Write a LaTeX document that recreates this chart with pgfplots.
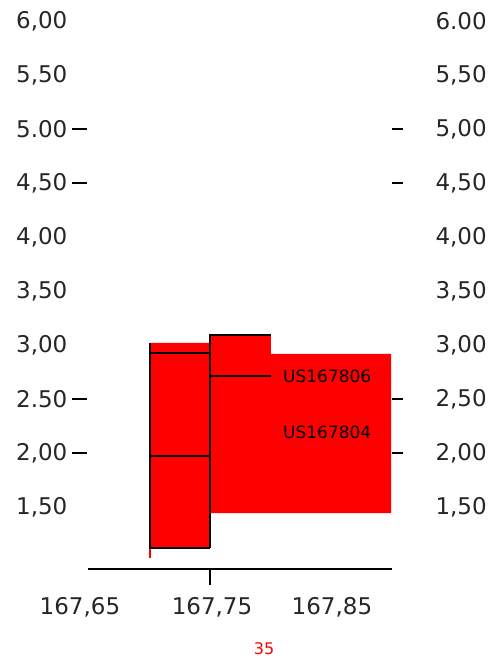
\documentclass[border=0pt]{standalone}
\usepackage{pgfplots}
\pgfplotsset{compat=1.18}
\usepackage{fontspec}
\setmainfont{DejaVu Sans}
\begin{document}
\begin{tikzpicture}
\begin{axis}[
  scale only axis, width=494bp, height=659bp,
  xmin=167.58333, xmax=167.97540,
  ymin=0.09259, ymax=6.19444,
  hide axis, clip=false,
]
% red areas
\addplot[fill=red, draw=none, forget plot] coordinates {
  (167.7024,3.0185) (167.75,3.0185) (167.75,1.1204) (167.7024,1.1204) (167.7024,3.0185)};
\addplot[fill=red, draw=none, forget plot] coordinates {
  (167.75,3.0926) (167.7984,3.0926) (167.7984,2.9167) (167.8937,2.9167)
  (167.8937,1.4444) (167.75,1.4444) (167.75,3.0926)};
% red small line below first box
\addplot[red, line width=1.2bp, forget plot] coordinates {(167.7024,1.1204) (167.7024,1.0278)};
% black outlines
\addplot[black, line width=1.3bp, forget plot] coordinates {(167.7024,3.0185) (167.7024,1.1204) (167.75,1.1204)};
\addplot[black, line width=1.3bp, forget plot] coordinates {(167.7024,2.9259) (167.75,2.9259)};
\addplot[black, line width=1.3bp, forget plot] coordinates {(167.7024,1.9722) (167.75,1.9722)};
\addplot[black, line width=1.3bp, forget plot] coordinates {(167.75,1.1204) (167.75,3.0926) (167.7984,3.0926)};
\addplot[black, line width=1.3bp, forget plot] coordinates {(167.75,2.7130) (167.7984,2.7130)};
% x axis line and tick
\addplot[black, line width=1.3bp, forget plot] coordinates {(167.6532,0.9259) (167.8944,0.9259)};
\addplot[black, line width=1.3bp, forget plot] coordinates {(167.75,0.9259) (167.75,0.7778)};
% y tick dashes, left
\addplot[black, line width=1.3bp, forget plot] coordinates {(167.6405,5.00) (167.6524,5.00)};
\addplot[black, line width=1.3bp, forget plot] coordinates {(167.6405,4.50) (167.6524,4.50)};
\addplot[black, line width=1.3bp, forget plot] coordinates {(167.6405,2.50) (167.6524,2.50)};
\addplot[black, line width=1.3bp, forget plot] coordinates {(167.6405,2.00) (167.6524,2.00)};
% y tick dashes, right
\addplot[black, line width=1.3bp, forget plot] coordinates {(167.8944,5.00) (167.9032,5.00)};
\addplot[black, line width=1.3bp, forget plot] coordinates {(167.8944,4.50) (167.9032,4.50)};
\addplot[black, line width=1.3bp, forget plot] coordinates {(167.8944,2.50) (167.9032,2.50)};
\addplot[black, line width=1.3bp, forget plot] coordinates {(167.8944,2.00) (167.9032,2.00)};
% left y labels
\tikzset{yl/.style={anchor=west, inner sep=0pt, font=\fontsize{23bp}{26bp}\selectfont, text=black!85}}
\tikzset{yr/.style={anchor=east, inner sep=0pt, font=\fontsize{23bp}{26bp}\selectfont, text=black!85}}
\node[yl] at (axis cs:167.596,6.00) {6,00};
\node[yl] at (axis cs:167.596,5.50) {5,50};
\node[yl] at (axis cs:167.596,5.00) {5.00};
\node[yl] at (axis cs:167.596,4.50) {4,50};
\node[yl] at (axis cs:167.596,4.00) {4,00};
\node[yl] at (axis cs:167.596,3.50) {3,50};
\node[yl] at (axis cs:167.596,3.00) {3,00};
\node[yl] at (axis cs:167.596,2.50) {2.50};
\node[yl] at (axis cs:167.596,2.00) {2,00};
\node[yl] at (axis cs:167.596,1.50) {1,50};
% right y labels
\node[yr] at (axis cs:167.9698,6.00) {6.00};
\node[yr] at (axis cs:167.9698,5.50) {5,50};
\node[yr] at (axis cs:167.9698,5.00) {5,00};
\node[yr] at (axis cs:167.9698,4.50) {4,50};
\node[yr] at (axis cs:167.9698,4.00) {4,00};
\node[yr] at (axis cs:167.9698,3.50) {3,50};
\node[yr] at (axis cs:167.9698,3.00) {3,00};
\node[yr] at (axis cs:167.9698,2.50) {2,50};
\node[yr] at (axis cs:167.9698,2.00) {2,00};
\node[yr] at (axis cs:167.9698,1.50) {1,50};
% x labels
\tikzset{xl/.style={anchor=center, inner sep=0pt, font=\fontsize{23bp}{26bp}\selectfont, text=black!85}}
\node[xl] at (axis cs:167.6468,0.5741) {167,65};
\node[xl] at (axis cs:167.7516,0.5741) {167,75};
\node[xl] at (axis cs:167.8468,0.5741) {167,85};
% series labels
\node[anchor=west, inner sep=0pt, font=\fontsize{17bp}{20bp}\selectfont] at (axis cs:167.8079,2.7130) {US167806};
\node[anchor=west, inner sep=0pt, font=\fontsize{17bp}{20bp}\selectfont] at (axis cs:167.8079,2.1944) {US167804};
% red page number
\node[anchor=center, inner sep=0pt, text=red, font=\fontsize{16bp}{18bp}\selectfont] at (axis cs:167.7929,0.1852) {35};
\end{axis}
\pgfresetboundingbox
\path (current axis.south west) rectangle (current axis.north east);
\end{tikzpicture}
\end{document}
